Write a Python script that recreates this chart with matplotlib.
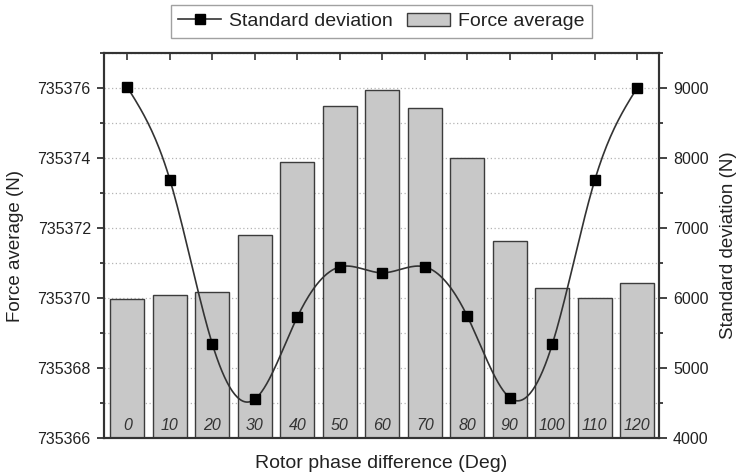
import numpy as np
import matplotlib
matplotlib.use("Agg")
import matplotlib.pyplot as plt
from matplotlib.lines import Line2D
from matplotlib.patches import Patch
from matplotlib.ticker import MultipleLocator, ScalarFormatter

plt.rcParams['font.family'] = ['Liberation Sans', 'DejaVu Sans']

# data
phase = [0, 10, 20, 30, 40, 50, 60, 70, 80, 90, 100, 110, 120]
force_avg = [735369.98, 735370.08, 735370.18, 735371.80, 735373.88, 735375.49,
             735375.95, 735375.42, 735374.00, 735371.63, 735370.29, 735370.00, 735370.43]
std_dev = [9010, 7690, 5340, 4555, 5730, 6445, 6360, 6445, 5740, 4575, 5340, 7685, 9005]


def natural_spline(x, y, n=400):
    # natural cubic spline, only used to draw the smooth connecting line
    x = np.asarray(x, float)
    y = np.asarray(y, float)
    h = np.diff(x)
    m = len(x)
    A = np.zeros((m, m))
    b = np.zeros(m)
    A[0, 0] = A[-1, -1] = 1
    for i in range(1, m - 1):
        A[i, i - 1] = h[i - 1]
        A[i, i] = 2 * (h[i - 1] + h[i])
        A[i, i + 1] = h[i]
        b[i] = 3 * ((y[i + 1] - y[i]) / h[i] - (y[i] - y[i - 1]) / h[i - 1])
    c = np.linalg.solve(A, b)
    xs = np.linspace(x[0], x[-1], n)
    idx = np.clip(np.searchsorted(x, xs) - 1, 0, m - 2)
    dx = xs - x[idx]
    bb = (y[idx + 1] - y[idx]) / h[idx] - h[idx] * (2 * c[idx] + c[idx + 1]) / 3
    d = (c[idx + 1] - c[idx]) / (3 * h[idx])
    ys = y[idx] + bb * dx + c[idx] * dx ** 2 + d * dx ** 3
    return xs, ys


fig = plt.figure(figsize=(7.42, 4.76), dpi=100)
ax1 = fig.add_axes([0.1402, 0.0798, 0.7473, 0.8088])
ax2 = ax1.twinx()

ax1.bar(phase, force_avg, width=8.0, bottom=0, color='#c8c8c8',
        edgecolor='#3c3c3c', linewidth=1.0, zorder=2)
ax1.set_ylim(735366, 735377)
ax1.set_xlim(-5.5, 125.0)
ax1.yaxis.set_major_locator(MultipleLocator(2))
ax1.yaxis.set_minor_locator(MultipleLocator(1))
fmt = ScalarFormatter(useOffset=False)
fmt.set_scientific(False)
ax1.yaxis.set_major_formatter(fmt)
ax1.set_axisbelow(True)
ax1.grid(axis='y', which='both', linestyle=(0, (1, 2)), color='#b4b4b4', linewidth=0.9)

ax1.set_xticks(phase)
ax1.tick_params(axis='x', which='both', bottom=False, top=True, direction='in',
                length=5, width=1.2, labelbottom=False, color='#333333')
ax1.tick_params(axis='y', which='major', direction='out', length=5, width=1.2,
                pad=4.5, labelsize=11.5, colors='#222222')
ax1.tick_params(axis='y', which='minor', direction='out', length=3, width=1.2,
                color='#222222')

for x in phase:
    ax1.text(x, 0.012, str(x), transform=ax1.get_xaxis_transform(), ha='center',
             va='bottom', fontsize=11.5, style='italic', color='#333333', zorder=3)

xs, ys = natural_spline(phase, std_dev)
ax2.plot(xs, ys, color='#333333', linewidth=1.2, zorder=3)
ax2.plot(phase, std_dev, linestyle='none', marker='s', markersize=7.5,
         color='black', zorder=4)
ax2.set_ylim(4000, 9500)
ax2.yaxis.set_major_locator(MultipleLocator(1000))
ax2.yaxis.set_minor_locator(MultipleLocator(500))
ax2.tick_params(axis='y', which='major', direction='out', length=5.5, width=1.2,
                pad=5, labelsize=11.5, colors='#222222')
ax2.tick_params(axis='y', which='minor', direction='out', length=3, width=1.2,
                color='#222222')

for ax in (ax1, ax2):
    for sp in ax.spines.values():
        sp.set_linewidth(1.5)
        sp.set_color('#333333')

ax1.set_ylabel('Force average (N)', fontsize=13.5, color='#222222', labelpad=10)
ax2.set_ylabel('Standard deviation (N)', fontsize=13.5, color='#222222', labelpad=8)
ax1.set_xlabel('Rotor phase difference (Deg)', fontsize=14, color='#222222', labelpad=12)

handles = [Line2D([], [], color='#333333', linewidth=1.2, marker='s', markersize=7.5,
                  markerfacecolor='black', markeredgecolor='black'),
           Patch(facecolor='#c8c8c8', edgecolor='#3c3c3c', linewidth=1.0)]
leg = ax1.legend(handles, ['Standard deviation', 'Force average'], ncol=2,
                 loc='lower center', bbox_to_anchor=(0.5, 1.04), fontsize=14,
                 fancybox=False, edgecolor='#8a8a8a', handlelength=2.2,
                 columnspacing=0.75, handletextpad=0.4, borderpad=0.38,
                 borderaxespad=0)
leg.get_frame().set_linewidth(1.0)
leg.set_zorder(10)
for t in leg.get_texts():
    t.set_color('#222222')

fig.savefig('out.png', dpi=100)
